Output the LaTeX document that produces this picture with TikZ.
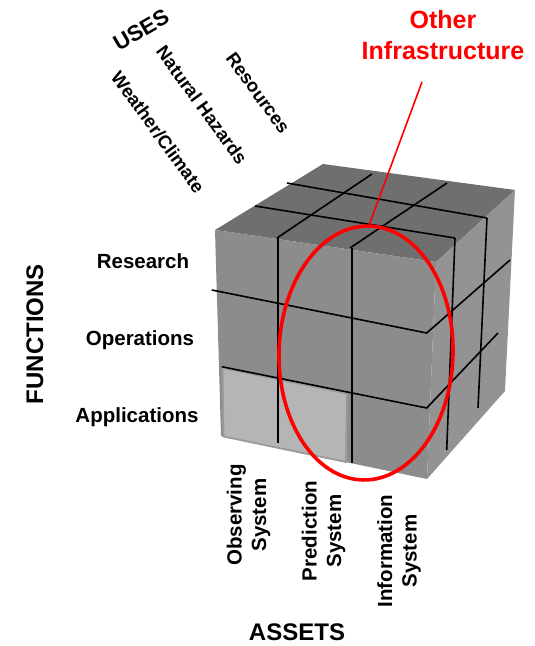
\documentclass[tikz,border=0pt]{standalone}
\usepackage{fontspec}
\setmainfont{Liberation Sans}
\usetikzlibrary{shapes.geometric}
\definecolor{topface}{HTML}{6F6F6F}
\definecolor{frontface}{HTML}{8C8C8C}
\definecolor{rightface}{HTML}{939393}
\definecolor{lightcell}{HTML}{B5B5B5}
\definecolor{lightedge}{HTML}{9A9A9A}
\definecolor{hired}{HTML}{FF0000}
\begin{document}
\begin{tikzpicture}[x=1pt,y=-1pt,
  gridline/.style={black, line width=1.6pt},
  lbl/.style={font=\bfseries\fontsize{20.5}{24.5}\selectfont, inner sep=0pt},
  biglbl/.style={font=\bfseries\fontsize{24}{28}\selectfont, inner sep=0pt},
  uselbl/.style={font=\bfseries\fontsize{18.5}{22}\selectfont, inner sep=0pt},
  redlbl/.style={font=\bfseries\fontsize{25}{30}\selectfont, text=hired, inner sep=0pt},
  redline/.style={hired, line width=1.6pt}]
\useasboundingbox (0,0) rectangle (535,646);
% cube corners
\coordinate (A) at (215,230);
\coordinate (B) at (436,262);
\coordinate (C) at (515,190);
\coordinate (D) at (323,164);
\coordinate (E) at (427,479);
\coordinate (F) at (221,436);
\coordinate (G) at (505,391);
% faces
\fill[topface] (A) -- (B) -- (C) -- (D) -- cycle;
\fill[frontface] (A) -- (B) -- (E) -- (F) -- cycle;
\fill[rightface] (B) -- (C) -- (G) -- (E) -- cycle;
% light cells
\filldraw[fill=lightcell, draw=lightedge, line width=1.8pt]
  (222.5,368) -- (347,393.5) -- (346,462) -- (223.5,436.5) -- cycle;
% top grid
\draw[gridline] (287,183) -- (487,218);
\draw[gridline] (255,206) -- (455,238);
\draw[gridline] (372,174) -- (277,238);
\draw[gridline] (447,183) -- (350,248);
% front verticals
\draw[gridline] (277.7,238) -- (277.7,443);
\draw[gridline] (351.7,248) -- (351.7,463);
% right verticals
\draw[gridline] (455,238) -- (446.7,450);
\draw[gridline] (487,218) -- (478,408);
% horizontal rings
\draw[gridline] (211.7,290) -- (426.7,333) -- (510,260);
\draw[gridline] (221.7,366.7) -- (426.7,408) -- (498,333);
% red ellipse and line
\node[ellipse, draw=hired, line width=3.6pt, minimum width=174pt, minimum height=254pt,
      inner sep=0pt, rotate=-1.5] (oi) at (366,353) {};
\coordinate (oiend) at (422,82);
\draw[redline] (oi.north) -- (oiend);
\node[redlbl, anchor=base] (other) at (443,28) {Other};
\node[redlbl, anchor=base] (infra) at (443,59) {Infrastructure};
% uses labels
\node[font=\bfseries\fontsize{22}{26}\selectfont, inner sep=0pt, rotate=30] (uses) at (141,30) {USES};
\node[uselbl, rotate=-54] (nat) at (202,105) {Natural Hazards};
\node[uselbl, rotate=-54] (res) at (258,93) {Resources};
\node[uselbl, rotate=-54] (wc) at (158,132) {Weather/Climate};
% functions
\node[biglbl, anchor=base, rotate=90] (func) at (43,334) {FUNCTIONS};
\node[lbl, anchor=base] (research) at (143,268) {Research};
\node[lbl, anchor=base] (ops) at (140,345) {Operations};
\node[lbl, anchor=base] (apps) at (137,422) {Applications};
% assets
\node[lbl, align=center, rotate=90] (obs) at (248.5,515) {Observing\\System};
\node[lbl, align=center, rotate=90] (pred) at (323.5,531) {Prediction\\System};
\node[lbl, align=center, rotate=90] (info) at (399,551) {Information\\System};
\node[biglbl, anchor=base] (assets) at (297,640) {ASSETS};
\end{tikzpicture}
\end{document}
